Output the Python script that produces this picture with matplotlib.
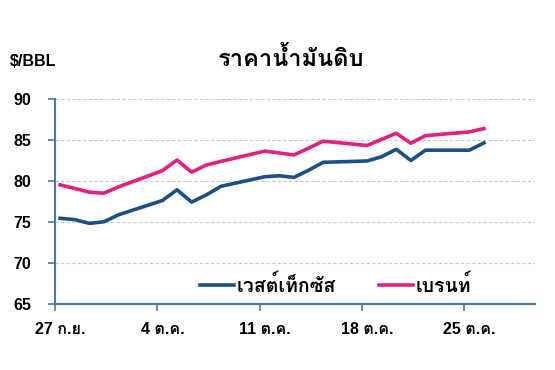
import matplotlib
matplotlib.use("Agg")
import matplotlib.pyplot as plt
from matplotlib import font_manager
from matplotlib.ft2font import FT2Font
import pandas as pd

# find an installed family that has Thai glyphs, use it as fallback after Liberation Sans
thai_fams = []
for f in font_manager.fontManager.ttflist:
    try:
        if FT2Font(f.fname).get_char_index(0x0E01):
            if f.name not in thai_fams:
                thai_fams.append(f.name)
    except Exception:
        pass
plt.rcParams['font.family'] = ["Liberation Sans"] + thai_fams[:1] + ["DejaVu Sans"]

dates = ["2021-09-27", "2021-09-28", "2021-09-29", "2021-09-30", "2021-10-01",
         "2021-10-04", "2021-10-05", "2021-10-06", "2021-10-07", "2021-10-08",
         "2021-10-11", "2021-10-12", "2021-10-13", "2021-10-14", "2021-10-15",
         "2021-10-18", "2021-10-19", "2021-10-20", "2021-10-21", "2021-10-22",
         "2021-10-25", "2021-10-26"]
wti = [75.45, 75.29, 74.83, 75.03, 75.88,
       77.62, 78.93, 77.43, 78.30, 79.35,
       80.52, 80.64, 80.44, 81.31, 82.28,
       82.44, 82.96, 83.87, 82.50, 83.76,
       83.76, 84.65]
brent = [79.53, 79.09, 78.64, 78.52, 79.28,
         81.26, 82.56, 81.08, 81.95, 82.39,
         83.65, 83.42, 83.18, 84.00, 84.86,
         84.33, 85.08, 85.82, 84.61, 85.53,
         85.99, 86.40]
tick_labels = ["27 ก.ย.", "4 ต.ค.", "11 ต.ค.", "18 ต.ค.", "25 ต.ค."]
yticks = [65, 70, 75, 80, 85, 90]

d = pd.to_datetime(dates)
days = (d - d[0]).days

fig = plt.figure(figsize=(5.55, 3.7), dpi=100)
ax = fig.add_axes([0.0991, 0.1784, 0.865, 0.554])

ax.plot(days, wti, color="#1b4f86", lw=2.6, label="เวสต์เท็กซัส")
ax.plot(days, brent, color="#e2207f", lw=2.6, label="เบรนท์")

ax.set_xlim(-0.35, 32.5)
ax.set_ylim(65, 90)
ax.set_yticks(yticks)
ax.set_xticks([-0.35 + 7 * i for i in range(5)])
ax.set_xticklabels([])
ax.set_xticks([7 * i for i in range(5)], minor=True)
ax.set_xticklabels(tick_labels, minor=True, fontsize=11.5, fontweight="bold")
ax.tick_params(axis="x", which="minor", length=0, pad=13)
ax.tick_params(axis="x", which="major", length=5, width=1.2, color="#4a79ad", direction="out")
ax.tick_params(axis="y", length=5, width=1.2, color="#4a79ad", labelsize=11.5, pad=12)
for lab in ax.get_yticklabels():
    lab.set_fontweight("bold")

ax.grid(axis="y", color="#c8c8c8", ls=(0, (3, 2)), lw=0.8)
ax.set_axisbelow(True)
for s in ["top", "right"]:
    ax.spines[s].set_visible(False)
for s in ["left", "bottom"]:
    ax.spines[s].set_color("#4a79ad")
    ax.spines[s].set_linewidth(1.5)

ax.legend(loc="lower center", ncol=2, frameon=False,
          handlelength=1.75, columnspacing=2.2, handletextpad=0.15,
          bbox_to_anchor=(0.585, -0.045), prop={"weight": "bold", "size": 14})

fig.text(0.524, 0.84, "ราคาน้ำมันดิบ", ha="center", va="center", fontsize=17, fontweight="bold")
fig.text(0.018, 0.835, "$/BBL", ha="left", va="center", fontsize=11.5, fontweight="bold")

fig.savefig("out.png", dpi=100)
